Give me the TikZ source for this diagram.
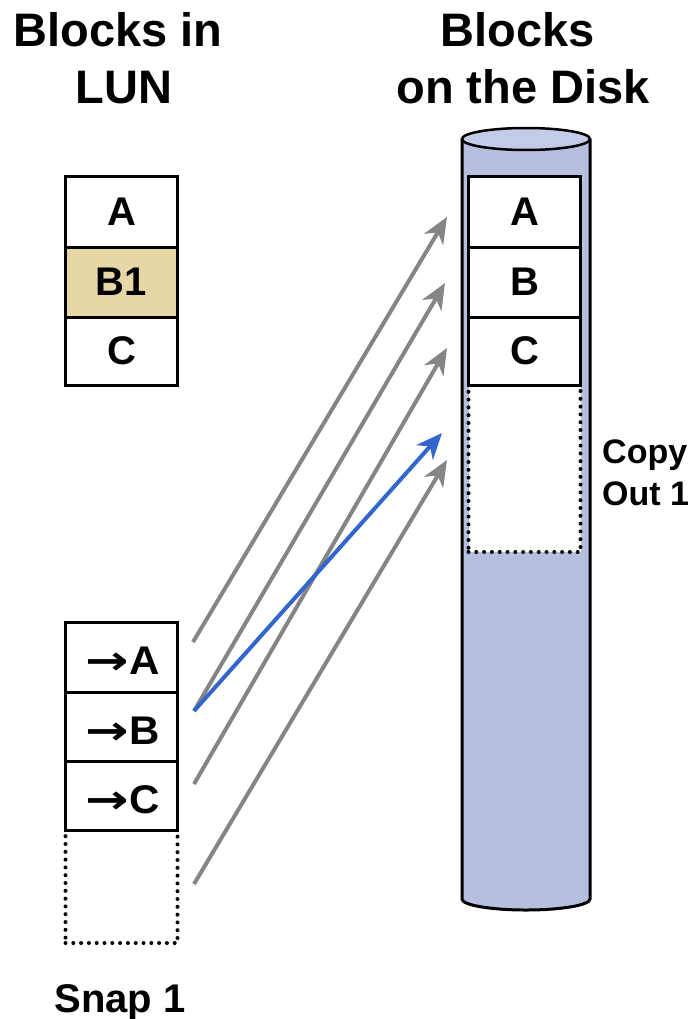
\documentclass[tikz,border=0pt]{standalone}
\usepackage{fontspec}
\setmainfont{Liberation Sans}
\newfontfamily\arrowfont{DejaVu Sans}
\usetikzlibrary{arrows.meta}
\definecolor{diskfill}{HTML}{B6BFDF}
\definecolor{disktop}{HTML}{C4CBE6}
\definecolor{tanfill}{HTML}{E8D7A6}
\definecolor{arrgray}{HTML}{858585}
\definecolor{arrblue}{HTML}{3366CC}
\newcommand{\rarr}{\scalebox{1.3}[1]{\arrowfont\bfseries\symbol{"2192}}}
\newcommand{\wide}[1]{\scalebox{1.05}[1]{#1}}
\tikzset{
  titletext/.style={anchor=base,inner sep=0pt,font=\fontsize{47}{47}\selectfont\bfseries},
  sidetext/.style={anchor=base west,inner sep=0pt,font=\fontsize{34}{34}\selectfont\bfseries},
  blk/.style={draw,line width=3pt,minimum width=112pt,minimum height=70pt,inner sep=0pt,fill=white,font=\fontsize{40}{40}\selectfont\bfseries},
  snaptext/.style={inner sep=0pt,font=\fontsize{40}{40}\selectfont\bfseries},
  emptyblk/.style={draw,line width=4pt,dash pattern=on 0pt off 7.8pt,line cap=round,minimum width=112pt,inner sep=0pt,fill=white},
  ptr/.style={line width=4pt,-{Stealth[length=26pt,width=22pt,inset=8pt]}},
}
\begin{document}
\begin{tikzpicture}[x=1pt,y=-1pt]
\useasboundingbox (0,0) rectangle (699,1019);
% titles
\node[titletext] (t1a) at (118,47) {Blocks in};
\node[titletext] (t1b) at (124,104) {LUN};
\node[titletext] (t2a) at (518,47) {Blocks};
\node[titletext] (t2b) at (523,104) {on the Disk};
\node[titletext,font=\fontsize{40}{40}\selectfont\bfseries] (snaplbl) at (120,1012) {Snap 1};
% cylinder
\fill[diskfill] (462,139) -- (462,899)
  .. controls (462,905.1) and (490.7,910) .. (526,910)
  .. controls (561.3,910) and (590,905.1) .. (590,899) -- (590,139) -- cycle;
\draw[line width=3pt] (462,139) -- (462,899)
  .. controls (462,905.1) and (490.7,910) .. (526,910)
  .. controls (561.3,910) and (590,905.1) .. (590,899) -- (590,139);
\draw[line width=2.5pt,fill=disktop] (526,139) ellipse [x radius=64pt,y radius=11pt];
% LUN blocks
\node[blk] (la) at (121.5,212) {A};
\node[blk,fill=tanfill] (lb) at (121.5,282) {B1};
\node[blk,minimum height=68pt] (lc) at (121.5,351) {C};
% disk blocks
\node[emptyblk,minimum height=167pt] (dd) at (524.5,468.5) {};
\node[blk] (da) at (524.5,212) {A};
\node[blk] (db) at (524.5,282) {B};
\node[blk,minimum height=68pt] (dc) at (524.5,351) {C};
\node[sidetext] (copy1) at (602,463) {Copy};
\node[sidetext] (copy2) at (602,505) {Out 1};
% snap blocks
\node[emptyblk,minimum height=113pt] (sd) at (121.5,886.5) {};
\node[blk] (sa) at (121.5,657) {};
\node[blk] (sb) at (121.5,727) {};
\node[blk,minimum height=69pt] (sc) at (121.5,795.5) {};
\node[snaptext] (sat) at ([xshift=1pt,yshift=-4pt]sa.center) {\rarr\wide{A}};
\node[snaptext] (sbt) at ([xshift=1pt,yshift=-4pt]sb.center) {\rarr\wide{B}};
\node[snaptext] (sct) at ([xshift=1pt,yshift=-4pt]sc.center) {\rarr\wide{C}};
% pointer coordinates
\coordinate (s1) at (193,642);
\coordinate (s2) at (194,711);
\coordinate (s3) at (194,784);
\coordinate (s4) at (194,884);
\coordinate (e1) at (447,217);
\coordinate (e2) at (445,283);
\coordinate (e3) at (447,348);
\coordinate (e4) at (442,433);
\coordinate (e5) at (447,460);
\draw[ptr,arrgray] (s1) -- (e1);
\draw[ptr,arrgray] (s2) -- (e2);
\draw[ptr,arrgray] (s3) -- (e3);
\draw[ptr,arrgray] (s4) -- (e5);
\draw[ptr,arrblue] (s2) -- (e4);
\end{tikzpicture}
\end{document}
